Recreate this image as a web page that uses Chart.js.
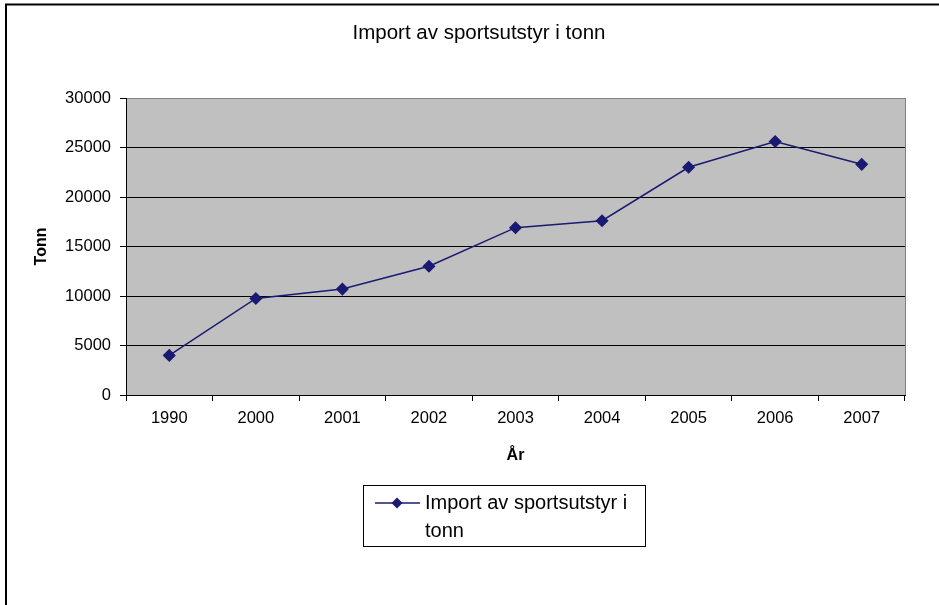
<!DOCTYPE html>
<html>
<head>
<meta charset="utf-8">
<script src="https://cdn.jsdelivr.net/npm/chart.js@4/dist/chart.umd.min.js"></script>
<style>
  html, body { margin: 0; padding: 0; background: #fff; }
  #wrap { width: 939px; height: 605px; position: relative; }
</style>
</head>
<body>
<div id="wrap"><canvas id="c" width="939" height="605"></canvas></div>
<script>
// ---- data ----
const categories = ["1990", "2000", "2001", "2002", "2003", "2004", "2005", "2006", "2007"];
const importTonn = [4000, 9750, 10700, 13000, 16900, 17600, 23000, 25600, 23300];
const seriesLabel = "Import av sportsutstyr i tonn";
const chartTitle = "Import av sportsutstyr i tonn";
const xAxisTitle = "År";
const yAxisTitle = "Tonn";
const yMin = 0, yMax = 30000, yStep = 5000;

const FONT = "'Liberation Sans', Arial, sans-serif";
const SERIES_COLOR = '#1a1a72';

const bgPlugin = {
  id: 'bgPlugin',
  beforeDraw(chart) {
    const { ctx, chartArea: a } = chart;
    ctx.save();
    ctx.fillStyle = '#fff';
    ctx.fillRect(0, 0, chart.width, chart.height);
    ctx.fillStyle = '#c0c0c0';
    ctx.fillRect(a.left, a.top, a.right - a.left, a.bottom - a.top);
    ctx.restore();
  },
  beforeDatasetsDraw(chart) {
    const { ctx, chartArea: a } = chart;
    ctx.save();
    ctx.strokeStyle = '#808080';
    ctx.lineWidth = 1;
    ctx.beginPath();
    ctx.moveTo(Math.round(a.right) + 0.5, a.top);
    ctx.lineTo(Math.round(a.right) + 0.5, a.bottom);
    ctx.stroke();
    ctx.restore();
  },
  afterDraw(chart) {
    const { ctx } = chart;
    ctx.save();
    // outer frame (top & left visible)
    ctx.strokeStyle = '#000';
    ctx.lineWidth = 2;
    ctx.beginPath();
    ctx.moveTo(6, chart.height);
    ctx.lineTo(6, 4.5);
    ctx.lineTo(chart.width, 4.5);
    ctx.stroke();

    // chart title
    ctx.fillStyle = '#000';
    ctx.font = "20.5px " + FONT;
    ctx.textAlign = 'center';
    ctx.textBaseline = 'middle';
    ctx.fillText(chartTitle, 479, 33);

    // legend box
    const bx = 363.5, by = 485.5, bw = 282, bh = 61;
    ctx.lineWidth = 1;
    ctx.strokeStyle = '#000';
    ctx.fillStyle = '#fff';
    ctx.fillRect(bx, by, bw, bh);
    ctx.strokeRect(bx, by, bw, bh);
    const ds = chart.data.datasets[0];
    const ly = 503;
    ctx.strokeStyle = ds.borderColor;
    ctx.lineWidth = 1.5;
    ctx.beginPath();
    ctx.moveTo(375, ly);
    ctx.lineTo(420, ly);
    ctx.stroke();
    ctx.fillStyle = ds.pointBackgroundColor;
    ctx.beginPath();
    const cx = 397, r = 5.5;
    ctx.moveTo(cx, ly - r); ctx.lineTo(cx + r, ly); ctx.lineTo(cx, ly + r); ctx.lineTo(cx - r, ly);
    ctx.closePath();
    ctx.fill();
    // wrapped label
    ctx.fillStyle = '#000';
    ctx.font = "20px " + FONT;
    ctx.textBaseline = 'middle';
    ctx.textAlign = 'left';
    const maxW = 217;
    const words = ds.label.split(' ');
    const lines = [];
    let cur = '';
    for (const w of words) {
      const t = cur ? cur + ' ' + w : w;
      if (ctx.measureText(t).width > maxW && cur) { lines.push(cur); cur = w; }
      else cur = t;
    }
    if (cur) lines.push(cur);
    lines.forEach((l, i) => ctx.fillText(l, 425, ly + i * 28));
    ctx.restore();
  }
};

new Chart(document.getElementById('c'), {
  type: 'line',
  data: {
    labels: categories,
    datasets: [{
      label: seriesLabel,
      data: importTonn,
      borderColor: SERIES_COLOR,
      backgroundColor: SERIES_COLOR,
      pointBackgroundColor: SERIES_COLOR,
      pointBorderColor: SERIES_COLOR,
      borderWidth: 1.5,
      pointStyle: 'rectRot',
      pointRadius: 5.5,
      pointHoverRadius: 5.5,
      tension: 0,
      fill: false
    }]
  },
  options: {
    responsive: false,
    animation: false,
    devicePixelRatio: 1,
    layout: { padding: { left: 0, right: 34, top: 98, bottom: 130 } },
    plugins: {
      legend: { display: false },
      tooltip: { enabled: false },
      title: { display: false }
    },
    scales: {
      x: {
        type: 'category',
        offset: true,
        afterFit(s) { s.height = 80; },
        grid: { offset: true, drawOnChartArea: false, drawTicks: true, tickLength: 6, color: '#000', tickColor: '#000' },
        border: { display: true, color: '#000', width: 1 },
        ticks: { color: '#000', padding: 8, font: { family: FONT, size: 16.5 }, maxRotation: 0, autoSkip: false },
        title: {
          display: true, text: xAxisTitle, color: '#000',
          font: { family: FONT, size: 16, weight: 'bold', lineHeight: 1.2 },
          padding: { top: 0, bottom: 10 }
        }
      },
      y: {
        min: yMin, max: yMax,
        afterFit(s) { s.width = 126; },
        grid: {
          drawTicks: true, tickLength: 6,
          color: (c) => (c.tick && c.tick.value === yMax) ? '#808080' : '#000',
          tickColor: '#000'
        },
        border: { display: true, color: '#000', width: 1 },
        ticks: {
          stepSize: yStep, color: '#000', padding: 9,
          font: { family: FONT, size: 16.5 },
          callback: (v) => String(v)
        },
        title: {
          display: true, text: yAxisTitle, color: '#000',
          font: { family: FONT, size: 16, weight: 'bold', lineHeight: 1.2 },
          padding: { top: 32, bottom: 0 }
        }
      }
    }
  },
  plugins: [bgPlugin]
});
</script>
</body>
</html>
